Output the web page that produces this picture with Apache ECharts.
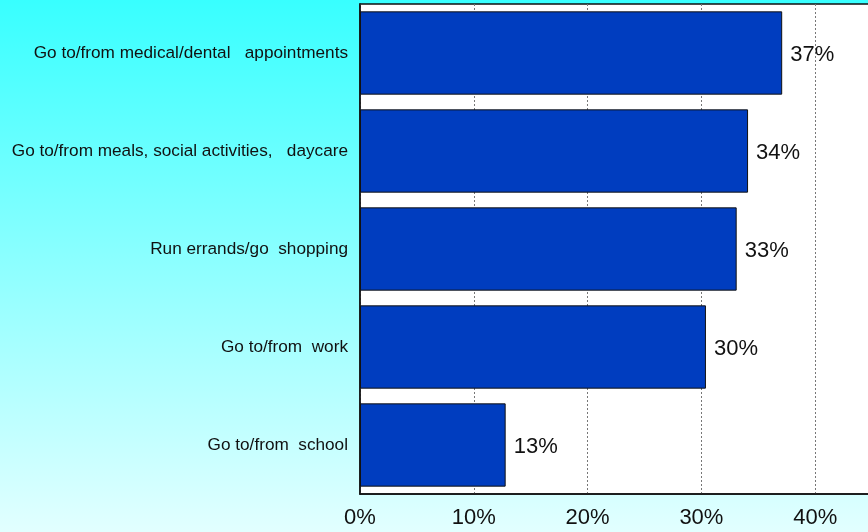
<!DOCTYPE html>
<html><head><meta charset="utf-8">
<script src="https://cdn.jsdelivr.net/npm/echarts@6/dist/echarts.min.js"></script>
<style>html,body{margin:0;padding:0;}#c{width:868px;height:532px;}</style>
</head><body><div id="c"></div>
<script>
const categories = [
  "Go to/from medical/dental   appointments",
  "Go to/from meals, social activities,   daycare",
  "Run errands/go  shopping",
  "Go to/from  work",
  "Go to/from  school"
];
const values = [37.1, 34.1, 33.1, 30.4, 12.8];
const xTicks = [0, 10, 20, 30, 40, 50];

const chart = echarts.init(document.getElementById('c'), null, {renderer: 'canvas'});
chart.setOption({
  animation: false,
  backgroundColor: {
    type: 'linear', x: 0, y: 0, x2: 0, y2: 1,
    colorStops: [{offset: 0, color: '#38FFFF'}, {offset: 1, color: '#E2FFFF'}]
  },
  grid: {
    left: 360, top: 4, bottom: 38, right: -61,
    outerBoundsMode: 'none', containLabel: false,
    show: true, backgroundColor: '#ffffff', borderColor: '#111111', borderWidth: 1.5
  },
  xAxis: {
    type: 'value', min: xTicks[0], max: xTicks[xTicks.length - 1], interval: 10,
    axisLine: {show: true, lineStyle: {color: '#111', width: 1.5}},
    axisTick: {show: false},
    axisLabel: {formatter: v => v + '%', fontFamily: 'Liberation Sans, Arial, sans-serif', fontSize: 22, color: '#111', margin: 13},
    splitLine: {show: true, lineStyle: {color: '#777', type: [2, 2], width: 1}}
  },
  yAxis: {
    type: 'category', data: categories, inverse: true,
    axisLine: {show: true, lineStyle: {color: '#111', width: 1.5}},
    axisTick: {show: false},
    axisLabel: {fontFamily: 'Liberation Sans, Arial, sans-serif', fontSize: 17.2, color: '#111', margin: 12},
    splitLine: {show: false}
  },
  series: [{
    type: 'bar', data: values, barCategoryGap: '15%',
    itemStyle: {color: '#003DBF', borderColor: '#111', borderWidth: 1},
    label: {
      show: true, position: 'right', distance: 8, offset: [0, 2],
      formatter: p => Math.round(p.value) + '%',
      fontFamily: 'Liberation Sans, Arial, sans-serif', fontSize: 22, color: '#111'
    }
  }]
});
</script></body></html>
